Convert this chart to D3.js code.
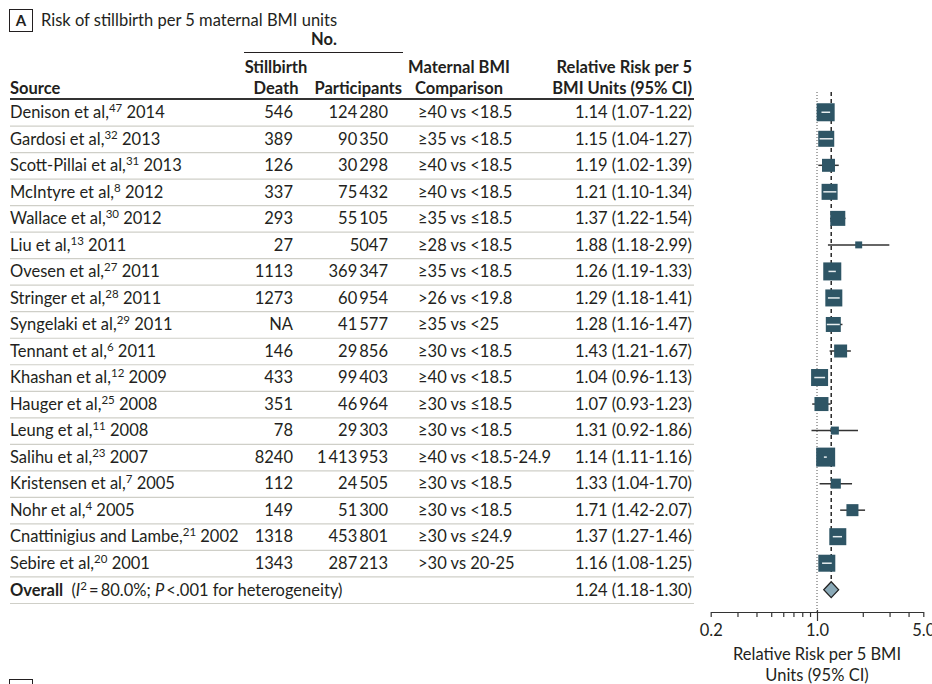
<!DOCTYPE html>
<html>
<head>
<meta charset="utf-8">
<script src="https://cdn.jsdelivr.net/npm/d3@7"></script>
<style>
  html, body { margin: 0; padding: 0; background: #fff; }
  svg { display: block; font-family: Lato, "Liberation Sans", sans-serif; }
  text { fill: #231f20; }
</style>
</head>
<body>
<svg id="chart" width="932" height="684"></svg>
<script>
// Study-level data: stillbirth risk per 5 maternal BMI units
const authors = ["Denison et al,", "Gardosi et al,", "Scott-Pillai et al,", "McIntyre et al,",
  "Wallace et al,", "Liu et al,", "Ovesen et al,", "Stringer et al,", "Syngelaki et al,",
  "Tennant et al,", "Khashan et al,", "Hauger et al,", "Leung et al,", "Salihu et al,",
  "Kristensen et al,", "Nohr et al,", "Cnattinigius and Lambe,", "Sebire et al,"];
const refs = [47, 32, 31, 8, 30, 13, 27, 28, 29, 6, 12, 25, 11, 23, 7, 4, 21, 20];
const years = [2014, 2013, 2013, 2012, 2012, 2011, 2011, 2011, 2011, 2011, 2009, 2008, 2008, 2007, 2005, 2005, 2002, 2001];
const deaths = [546, 389, 126, 337, 293, 27, 1113, 1273, null, 146, 433, 351, 78, 8240, 112, 149, 1318, 1343];
const participants = [124280, 90350, 30298, 75432, 55105, 5047, 369347, 60954, 41577, 29856,
  99403, 46964, 29303, 1413953, 24505, 51300, 453801, 287213];
const comparisons = ["≥40 vs <18.5", "≥35 vs <18.5", "≥40 vs <18.5", "≥40 vs <18.5", "≥35 vs ≤18.5",
  "≥28 vs <18.5", "≥35 vs <18.5", ">26 vs <19.8", "≥35 vs <25", "≥30 vs <18.5", "≥40 vs <18.5",
  "≥30 vs ≤18.5", "≥30 vs <18.5", "≥40 vs <18.5-24.9", "≥30 vs <18.5", "≥30 vs <18.5",
  "≥30 vs ≤24.9", ">30 vs 20-25"];
const rr = [1.14, 1.15, 1.19, 1.21, 1.37, 1.88, 1.26, 1.29, 1.28, 1.43, 1.04, 1.07, 1.31, 1.14, 1.33, 1.71, 1.37, 1.16];
const rrLow = [1.07, 1.04, 1.02, 1.10, 1.22, 1.18, 1.19, 1.18, 1.16, 1.21, 0.96, 0.93, 0.92, 1.11, 1.04, 1.42, 1.27, 1.08];
const rrHigh = [1.22, 1.27, 1.39, 1.34, 1.54, 2.99, 1.33, 1.41, 1.47, 1.67, 1.13, 1.23, 1.86, 1.16, 1.70, 2.07, 1.46, 1.25];
// Study weights (%), shown as marker area
const weights = [8.1, 6.4, 4.2, 6.4, 5.6, 1.2, 8.1, 7.2, 5.6, 4.2, 7.2, 4.9, 1.6, 9.0, 2.5, 3.6, 7.2, 7.2];

// Pooled estimate
const overall = { rr: 1.24, low: 1.18, high: 1.30, i2: "80.0%", p: "<.001" };

// Axis ticks
const tickValues = [0.2, 0.3, 0.4, 0.5, 0.6, 0.7, 0.8, 0.9, 1, 2, 3, 4, 5];
const tickLabels = { 0.2: "0.2", 1: "1.0", 5: "5.0" };

const svg = d3.select("#chart");
const ink = "#231f20";
const boxFill = "#2e5565";
const diamondFill = "#8aa9b7";

const rows = authors.map((a, i) => ({
  author: a, ref: refs[i], year: years[i], deaths: deaths[i], n: participants[i],
  comp: comparisons[i], rr: rr[i], lo: rrLow[i], hi: rrHigh[i], w: weights[i]
}));
const keys = rows.map((d, i) => "s" + i).concat(["overall"]);

const y = d3.scaleBand().domain(keys).range([99, 603]);
const yc = k => y(k) + y.bandwidth() / 2;
const x = d3.scaleLog().domain([0.2, 5]).range([710.7, 923.3]);
const size = d3.scaleSqrt().domain([0, d3.max(weights)]).range([0, 19]);

const fmtBig = d3.formatLocale({ decimal: ".", thousands: "\u2009", grouping: [3], currency: ["", ""] }).format(",d");
const fmtN = v => v >= 10000 ? fmtBig(v) : String(v);
const f2 = d3.format(".2f");
const ciText = (m, l, h) => `${f2(m)} (${f2(l)}-${f2(h)})`;

// Column anchors
const col = { source: 10, deaths: 293, n: 388, comp: 418, rr: 692, lineEnd: 694 };
const fs = 16.5;

// Panel label and title
svg.append("rect").attr("x", 9.5).attr("y", 9.5).attr("width", 23).attr("height", 22)
  .attr("fill", "none").attr("stroke", ink).attr("stroke-width", 1);
svg.append("text").attr("x", 21).attr("y", 26).attr("text-anchor", "middle")
  .attr("font-size", 15).attr("font-weight", 700).text("A");
svg.append("text").attr("x", 41).attr("y", 26).attr("font-size", fs)
  .text("Risk of stillbirth per 5 maternal BMI units");

// Next panel box (partially visible)
svg.append("rect").attr("x", 9.5).attr("y", 679.5).attr("width", 23).attr("height", 22)
  .attr("fill", "none").attr("stroke", ink).attr("stroke-width", 1);

// Column headers
const head = svg.append("g").attr("font-size", fs).attr("font-weight", 700);
head.append("text").attr("x", 324).attr("y", 45).attr("text-anchor", "middle").text("No.");
svg.append("line").attr("x1", 244).attr("x2", 403).attr("y1", 52.5).attr("y2", 52.5)
  .attr("stroke", ink).attr("stroke-width", 1);
head.append("text").attr("x", 276).attr("y", 73).attr("text-anchor", "middle").text("Stillbirth");
head.append("text").attr("x", 276).attr("y", 94).attr("text-anchor", "middle").text("Death");
head.append("text").attr("x", 402).attr("y", 94).attr("text-anchor", "end").text("Participants");
head.append("text").attr("x", 459).attr("y", 73).attr("text-anchor", "middle").text("Maternal BMI");
head.append("text").attr("x", 459).attr("y", 94).attr("text-anchor", "middle").text("Comparison");
head.append("text").attr("x", col.rr).attr("y", 73).attr("text-anchor", "end").text("Relative Risk per 5");
head.append("text").attr("x", col.rr).attr("y", 94).attr("text-anchor", "end").text("BMI Units (95% CI)");
head.append("text").attr("x", col.source).attr("y", 94).text("Source");

// Row separators
svg.append("g").selectAll("line").data(keys).join("line")
  .attr("x1", col.source).attr("x2", col.lineEnd)
  .attr("y1", k => y(k) + y.bandwidth() + 0.5).attr("y2", k => y(k) + y.bandwidth() + 0.5)
  .attr("stroke", "#cfcfc8").attr("stroke-width", 1.2);
svg.append("line").attr("x1", col.source).attr("x2", col.lineEnd).attr("y1", 99).attr("y2", 99)
  .attr("stroke", "#333").attr("stroke-width", 2);

// Table rows
const tr = svg.append("g").attr("font-size", fs).selectAll("g").data(rows).join("g")
  .attr("transform", (d, i) => `translate(0,${yc(keys[i]) + 5.8})`);
const src = tr.append("text").attr("x", col.source);
src.append("tspan").text(d => d.author);
src.append("tspan").attr("font-size", 11.5).attr("dy", -6).text(d => d.ref);
src.append("tspan").attr("dy", 6).text(d => "\u00a0" + d.year);
tr.append("text").attr("x", col.deaths).attr("text-anchor", "end")
  .text(d => d.deaths == null ? "NA" : fmtN(d.deaths));
tr.append("text").attr("x", col.n).attr("text-anchor", "end").text(d => fmtN(d.n));
tr.append("text").attr("x", col.comp).text(d => d.comp);
tr.append("text").attr("x", col.rr).attr("text-anchor", "end").text(d => ciText(d.rr, d.lo, d.hi));

// Overall row text
const oy = yc("overall") + 5.8;
const ot = svg.append("text").attr("x", col.source).attr("y", oy).attr("font-size", fs);
ot.append("tspan").attr("font-weight", 700).text("Overall");
ot.append("tspan").text("\u2002(");
ot.append("tspan").attr("font-style", "italic").text("I");
ot.append("tspan").attr("font-size", 11.5).attr("dy", -6).text("2");
ot.append("tspan").attr("dy", 6).text("\u2009=\u2009" + overall.i2 + "; ");
ot.append("tspan").attr("font-style", "italic").text("P");
ot.append("tspan").text("\u2009" + overall.p + " for heterogeneity)");
svg.append("text").attr("x", col.rr).attr("y", oy).attr("font-size", fs).attr("text-anchor", "end")
  .text(ciText(overall.rr, overall.low, overall.high));

// Forest plot
const plot = svg.append("g");
const topY = 92, axisY = 612;

// Null line at RR = 1
plot.append("line").attr("x1", x(1)).attr("x2", x(1)).attr("y1", topY).attr("y2", axisY)
  .attr("stroke", "#555").attr("stroke-width", 1).attr("stroke-dasharray", "1,2");
// Pooled estimate reference line
const dh = 8;
plot.append("line").attr("x1", x(overall.rr)).attr("x2", x(overall.rr))
  .attr("y1", topY).attr("y2", yc("overall") - dh)
  .attr("stroke", "#1a1a1a").attr("stroke-width", 1.4).attr("stroke-dasharray", "4,3");

const st = plot.selectAll("g.study").data(rows).join("g").attr("class", "study")
  .attr("transform", (d, i) => `translate(0,${yc(keys[i])})`);
st.append("line").attr("x1", d => x(d.lo)).attr("x2", d => x(d.hi))
  .attr("stroke", "#333").attr("stroke-width", 1.5);
st.append("rect")
  .attr("x", d => x(d.rr) - size(d.w) / 2).attr("y", d => -size(d.w) / 2)
  .attr("width", d => size(d.w)).attr("height", d => size(d.w))
  .attr("fill", boxFill);
// CI drawn in white across the box when an interval end falls inside it
st.filter(d => {
  const l = x(d.rr) - size(d.w) / 2, r = x(d.rr) + size(d.w) / 2;
  return (x(d.lo) > l && x(d.lo) < r) || (x(d.hi) > l && x(d.hi) < r);
}).append("line")
  .attr("x1", d => Math.max(x(d.lo), x(d.rr) - size(d.w) / 2 + 1))
  .attr("x2", d => Math.min(x(d.hi), x(d.rr) + size(d.w) / 2 - 1))
  .attr("stroke", "#e8eef0").attr("stroke-width", 1.5);

// Pooled diamond
const cy = yc("overall"), cx = x(overall.rr), dw = 7.5;
plot.append("path")
  .attr("d", `M${cx - dw},${cy}L${cx},${cy - dh}L${cx + dw},${cy}L${cx},${cy + dh}Z`)
  .attr("fill", diamondFill).attr("stroke", "#222").attr("stroke-width", 1.2);

// Axis
const axis = d3.axisBottom(x).tickValues(tickValues).tickSize(5).tickSizeOuter(0)
  .tickFormat(v => tickLabels[v] || "");
const ag = plot.append("g").attr("transform", `translate(0,${axisY})`).call(axis);
ag.select(".domain").attr("stroke", "#333").attr("stroke-width", 1.2);
ag.selectAll(".tick line").attr("stroke", "#333").attr("stroke-width", 1.2);
ag.selectAll(".tick").filter(v => v === 1).select("line").attr("y1", -2).attr("y2", 9);
ag.selectAll(".tick text").attr("font-size", fs).attr("font-family", "Lato, sans-serif")
  .attr("fill", ink).attr("y", 12).attr("dy", "0.71em");

plot.append("text").attr("x", x(1)).attr("y", 660).attr("text-anchor", "middle").attr("font-size", fs)
  .text("Relative Risk per 5 BMI");
plot.append("text").attr("x", x(1)).attr("y", 680.5).attr("text-anchor", "middle").attr("font-size", fs)
  .text("Units (95% CI)");
</script>
</body>
</html>
